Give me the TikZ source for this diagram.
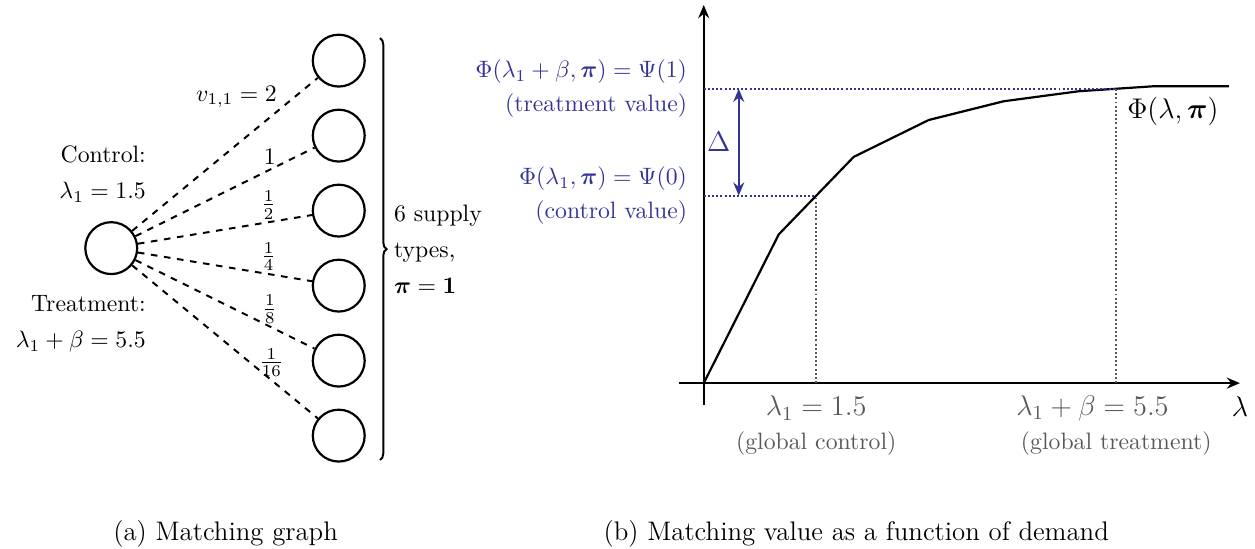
\RequirePackage{fix-cm}
\documentclass[tikz,border=0pt]{standalone}
\usepackage{amsmath}
\usepackage{amssymb}
\usetikzlibrary{
    positioning,
    arrows.meta,
    decorations.pathreplacing
}

\definecolor{valblue}{RGB}{52,52,150}
\definecolor{axgray}{RGB}{88,88,88}

\newcommand{\figtext}{\fontsize{10.8}{13}\selectfont}
\newcommand{\figbig}{\fontsize{12.96}{15.5}\selectfont}
\newcommand{\capfont}{\fontsize{12.2}{14}\selectfont}

\tikzset{
    >={Stealth[length=6pt, width=5pt, inset=2pt]},
    vertex/.style={
        circle,
        draw,
        line width=1pt,
        minimum size=0.83cm,
        inner sep=0pt
    },
    link/.style={dashed, line width=0.9pt},
    guide/.style={densely dotted, line width=0.9pt, axgray},
    bguide/.style={densely dotted, line width=0.9pt, valblue},
    axis/.style={line width=1pt, ->}
}

\begin{document}
\begin{tikzpicture}[
    font=\figtext
]
    \useasboundingbox (0,0) rectangle (20.08,8.77);

    % Grafo de emparejamiento
    \node[vertex] (d) at (1.78,4.8) {};
    \foreach \i in {1,...,6}
        \node[vertex] (s\i) at (5.42,{9-1.2*\i}) {};

    \node[anchor=east, align=right, inner sep=0pt] (ctl) at (2.34,5.98)
        {Control:\\[3.4pt]$\lambda_1 = 1.5$};
    \node[anchor=east, align=right, inner sep=0pt] (trt) at (2.34,3.59)
        {Treatment:\\[3.4pt]$\lambda_1 + \beta = 5.5$};

    \path[link]
        (d)
            edge node[pos=0.79, above left, inner sep=0.5pt] {$v_{1,1} = 2$} (s1)
            edge node[pos=0.75, above, inner sep=2pt] {$1$} (s2)
            edge node[pos=0.75, above, inner sep=1pt] {$\frac{1}{2}$} (s3)
            edge node[pos=0.75, above, inner sep=1pt] {$\frac{1}{4}$} (s4)
            edge node[pos=0.75, above, inner sep=1pt] {$\frac{1}{8}$} (s5)
            edge node[pos=0.75, above, inner sep=1pt] {$\frac{1}{16}$} (s6);

    \draw[line width=0.9pt, decorate, decoration={brace, amplitude=3pt}]
        (6.08,8.16) -- (6.08,1.41) coordinate[midway] (bmid);
    \node[right=0.1cm of bmid, align=left] (types)
        {6 supply\\[3.4pt]types,\\[3.4pt]$\boldsymbol{\pi} = \mathbf{1}$};

    \node[font=\capfont] (capa) at (3.61,0.224) {(a) Matching graph};

    % Valor del emparejamiento
    \begin{scope}[shift={(11.26,2.64)}]
        \coordinate (O) at (0,0);
        \coordinate (ctrl) at (1.8,3.0);
        \coordinate (treat) at (6.6,4.71);

        \draw[axis] (-0.4,0) -- (8.58,0)
            node[below=0.08cm, font=\figbig] (lam) {$\lambda$};
        \draw[axis] (0,-0.35) -- (0,6.05);

        \draw[line width=1pt]
            (0,0) -- (1.2,2.38) -- (2.4,3.62) -- (3.6,4.21)
            -- (4.8,4.51) -- (6,4.67) -- (7.2,4.75) -- (8.4,4.75);

        \draw[guide] (ctrl |- O) -- (ctrl);
        \draw[guide] (treat |- O) -- (treat);
        \draw[bguide] (ctrl -| O) -- (ctrl);
        \draw[bguide] (treat -| O) -- (treat);

        \draw[valblue, line width=1pt, <->] (0.56,3.0) -- (0.56,4.71)
            node[midway, left=0pt, font=\figbig] (delta) {$\Delta$};

        \node[anchor=east, align=right, inner sep=0pt, text=valblue] (tval)
            at (-0.26,4.71)
            {$\Phi(\lambda_1 + \beta, \boldsymbol{\pi}) = \Psi(1)$\\[2.5pt](treatment value)};
        \node[anchor=east, align=right, inner sep=0pt, text=valblue] (cval)
            at (-0.26,3.0)
            {$\Phi(\lambda_1, \boldsymbol{\pi}) = \Psi(0)$\\[2.5pt](control value)};

        \node[anchor=north west, inner sep=0pt, font=\figbig] (phi)
            at (6.77,4.59) {$\Phi(\lambda, \boldsymbol{\pi})$};

        \node[text=axgray, font=\figbig] (cx) at (1.8,-0.4) {$\lambda_1 = 1.5$};
        \node[text=axgray] (cxs) at (1.8,-0.96) {(global control)};
        \node[text=axgray, font=\figbig] (tx) at (6.22,-0.4) {$\lambda_1 + \beta = 5.5$};
        \node[text=axgray] (txs) at (6.6,-0.96) {(global treatment)};
    \end{scope}

    \node[font=\capfont] (capb) at (13.70,0.224) {(b) Matching value as a function of demand};

\end{tikzpicture}
\end{document}
